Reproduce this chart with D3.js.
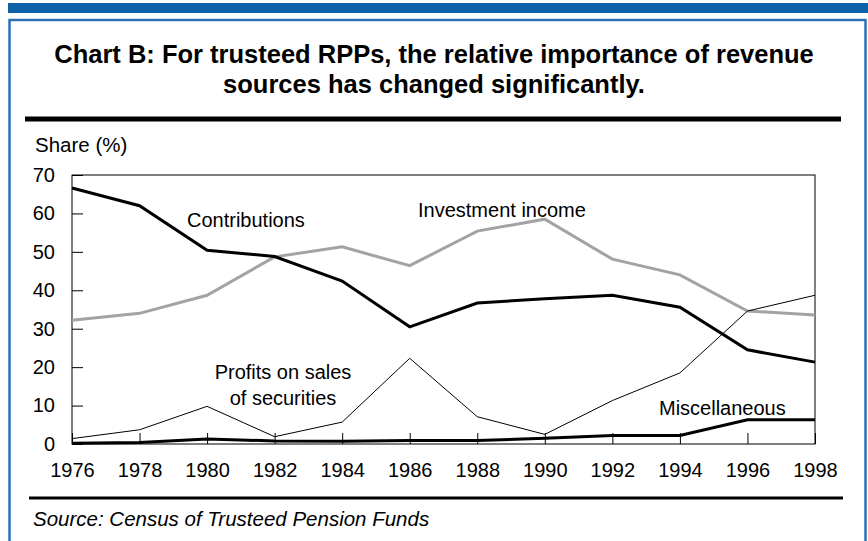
<!DOCTYPE html>
<html>
<head>
<meta charset="utf-8">
<script src="https://cdn.jsdelivr.net/npm/d3@7"></script>
<style>
  html, body { margin: 0; padding: 0; background: #fff; }
  svg { display: block; font-family: "Liberation Sans", Arial, sans-serif; }
  .tick text { font-size: 20px; fill: #000; }
  .tick line { stroke: #000; stroke-width: 1; }
</style>
</head>
<body>
<svg id="chart" width="868" height="541"></svg>
<script>
"use strict";

/* ── Data ────────────────────────────────────────────────── */
const years = [1976, 1978, 1980, 1982, 1984, 1986, 1988, 1990, 1992, 1994, 1996, 1998];
const contributions = [66.6, 62.0, 50.4, 48.8, 42.4, 30.5, 36.7, 37.8, 38.7, 35.6, 24.5, 21.3];
const investmentIncome = [32.2, 34.0, 38.7, 48.7, 51.3, 46.4, 55.4, 58.5, 48.1, 44.0, 34.6, 33.6];
const profitsOnSales = [1.4, 3.7, 9.8, 1.9, 5.7, 22.3, 7.1, 2.5, 11.3, 18.5, 34.6, 38.7];
const miscellaneous = [0.2, 0.4, 1.3, 0.8, 0.7, 0.9, 0.9, 1.5, 2.2, 2.2, 6.3, 6.3];
const yTicks = [0, 10, 20, 30, 40, 50, 60, 70];

const titleLines = [
  "Chart B: For trusteed RPPs, the relative importance of revenue",
  "sources has changed significantly."
];
const sourceNote = "Source: Census of Trusteed Pension Funds";

/* ── Layout ───────────────────────────────────────────────── */
const PLOT = { left: 72, right: 815, top: 175, bottom: 444 };
const BLUE_BAR = "#0d61a8";
const BLUE_BORDER = "#2c70b6";
const GREY = "#a3a3a3";

const svg = d3.select("#chart");

/* Page frame */
svg.append("rect").attr("x", 8).attr("y", 3).attr("width", 860).attr("height", 10)
  .attr("fill", BLUE_BAR);
svg.append("rect").attr("x", 9.5).attr("y", 20).attr("width", 856).attr("height", 560)
  .attr("fill", "none").attr("stroke", BLUE_BORDER).attr("stroke-width", 2.5);

/* Title */
svg.append("g").selectAll("text").data(titleLines).join("text")
  .attr("x", 434).attr("y", (d, i) => 63 + i * 30)
  .attr("text-anchor", "middle")
  .attr("font-weight", "bold").attr("font-size", 25.5)
  .text((d) => d);

/* Separator rules */
svg.append("line").attr("x1", 25).attr("x2", 841).attr("y1", 119).attr("y2", 119)
  .attr("stroke", "#000").attr("stroke-width", 5);
svg.append("line").attr("x1", 29).attr("x2", 843).attr("y1", 498).attr("y2", 498)
  .attr("stroke", "#000").attr("stroke-width", 3);

/* Unit label */
svg.append("text").attr("x", 35).attr("y", 152).attr("font-size", 20.5).text("Share (%)");

/* Source */
svg.append("text").attr("x", 33).attr("y", 526).attr("font-size", 20.5)
  .attr("font-style", "italic").text(sourceNote);

/* ── Scales & axes ─────────────────────────────────────────── */
const x = d3.scaleLinear().domain([years[0], years[years.length - 1]])
  .range([PLOT.left, PLOT.right]);
const y = d3.scaleLinear().domain([0, 70]).range([PLOT.bottom, PLOT.top]);

// drop d3's default font attrs so the axis text inherits Liberation Sans
const plainAxis = (a) => {
  a.attr("font-family", null).attr("font-size", null);
  a.select(".domain").remove();
};

svg.append("g").attr("transform", `translate(0,${PLOT.bottom})`)
  .call(d3.axisBottom(x).tickValues(years).tickFormat(d3.format("d"))
    .tickSizeInner(-11).tickSizeOuter(0).tickPadding(19))
  .call(plainAxis);

svg.append("g").attr("transform", `translate(${PLOT.left},0)`)
  .call(d3.axisLeft(y).tickValues(yTicks)
    .tickSizeInner(-11).tickSizeOuter(0).tickPadding(17))
  .call(plainAxis);

/* Plot frame */
svg.append("rect")
  .attr("x", PLOT.left).attr("y", PLOT.top)
  .attr("width", PLOT.right - PLOT.left).attr("height", PLOT.bottom - PLOT.top)
  .attr("fill", "none").attr("stroke", "#000").attr("stroke-width", 1);

/* ── Series ───────────────────────────────────────────────── */
const line = d3.line().x((d) => x(d[0])).y((d) => y(d[1]));
const series = [
  { values: investmentIncome, color: GREY, width: 3 },
  { values: profitsOnSales, color: "#000", width: 1 },
  { values: contributions, color: "#000", width: 3 },
  { values: miscellaneous, color: "#000", width: 3 }
];

svg.append("g").selectAll("path").data(series).join("path")
  .attr("d", (s) => line(years.map((yr, i) => [yr, s.values[i]])))
  .attr("fill", "none")
  .attr("stroke", (s) => s.color)
  .attr("stroke-width", (s) => s.width)
  .attr("stroke-linejoin", "miter");

/* Series labels */
const labels = [
  { text: "Contributions", x: 187, y: 227, anchor: "start" },
  { text: "Investment income", x: 418, y: 217, anchor: "start" },
  { text: "Profits on sales", x: 283, y: 379, anchor: "middle" },
  { text: "of securities", x: 283, y: 405, anchor: "middle" },
  { text: "Miscellaneous", x: 659, y: 415, anchor: "start" }
];
svg.append("g").selectAll("text").data(labels).join("text")
  .attr("x", (d) => d.x).attr("y", (d) => d.y)
  .attr("text-anchor", (d) => d.anchor)
  .attr("font-size", 20)
  .text((d) => d.text);
</script>
</body>
</html>
